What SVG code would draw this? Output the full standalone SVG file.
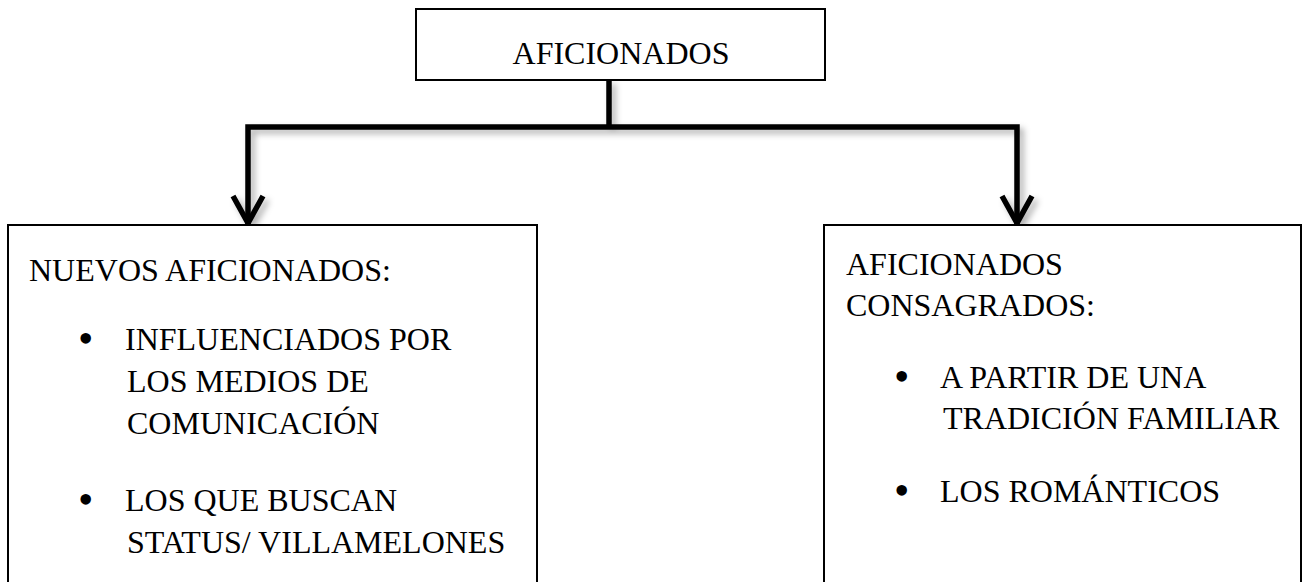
<svg xmlns="http://www.w3.org/2000/svg" width="1304" height="582" viewBox="0 0 1304 582">
<style>
.box{fill:#fff;stroke:#000;stroke-width:2}
.t{font-family:"Liberation Serif","Times New Roman",serif;font-size:32px;fill:#000}
.b{font-family:"Liberation Serif","Times New Roman",serif;font-size:44px;fill:#000}
.c{fill:none;stroke:#000;stroke-width:5.5;stroke-linecap:butt;stroke-linejoin:miter}
</style>
<defs>
<filter id="sh" x="-20%" y="-20%" width="140%" height="140%">
<feDropShadow dx="4" dy="4" stdDeviation="3" flood-color="#000" flood-opacity="0.3"/>
</filter>
</defs>
<rect width="1304" height="582" fill="#fff"/>
<g id="connectors" filter="url(#sh)">
<path class="c" d="M609,80 V127"/>
<path class="c" d="M248,224 V127 H1017 V224"/>
<path class="c" d="M233,196 L248,223 L263,196"/>
<path class="c" d="M1002,196 L1017,223 L1032,196"/>
</g>
<g id="root">
<rect class="box" x="416" y="9" width="409" height="71"/>
<text class="t" x="621" y="64" text-anchor="middle">AFICIONADOS</text>
</g>
<g id="nuevos">
<rect class="box" x="8" y="225" width="529" height="370"/>
<text class="t" x="29" y="281">NUEVOS AFICIONADOS:</text>
<text class="b" x="78" y="353">•</text>
<text class="t" x="125" y="350">INFLUENCIADOS POR</text>
<text class="t" x="127" y="392">LOS MEDIOS DE</text>
<text class="t" x="127" y="434">COMUNICACIÓN</text>
<text class="b" x="78" y="514">•</text>
<text class="t" x="125" y="511">LOS QUE BUSCAN</text>
<text class="t" x="127" y="553">STATUS/ VILLAMELONES</text>
</g>
<g id="consagrados">
<rect class="box" x="824" y="225" width="477" height="370"/>
<text class="t" x="846" y="275">AFICIONADOS</text>
<text class="t" x="846" y="316">CONSAGRADOS:</text>
<text class="b" x="894" y="391">•</text>
<text class="t" x="940" y="388">A PARTIR DE UNA</text>
<text class="t" x="943" y="429">TRADICIÓN FAMILIAR</text>
<text class="b" x="894" y="505">•</text>
<text class="t" x="940" y="502">LOS ROMÁNTICOS</text>
</g>
</svg>
